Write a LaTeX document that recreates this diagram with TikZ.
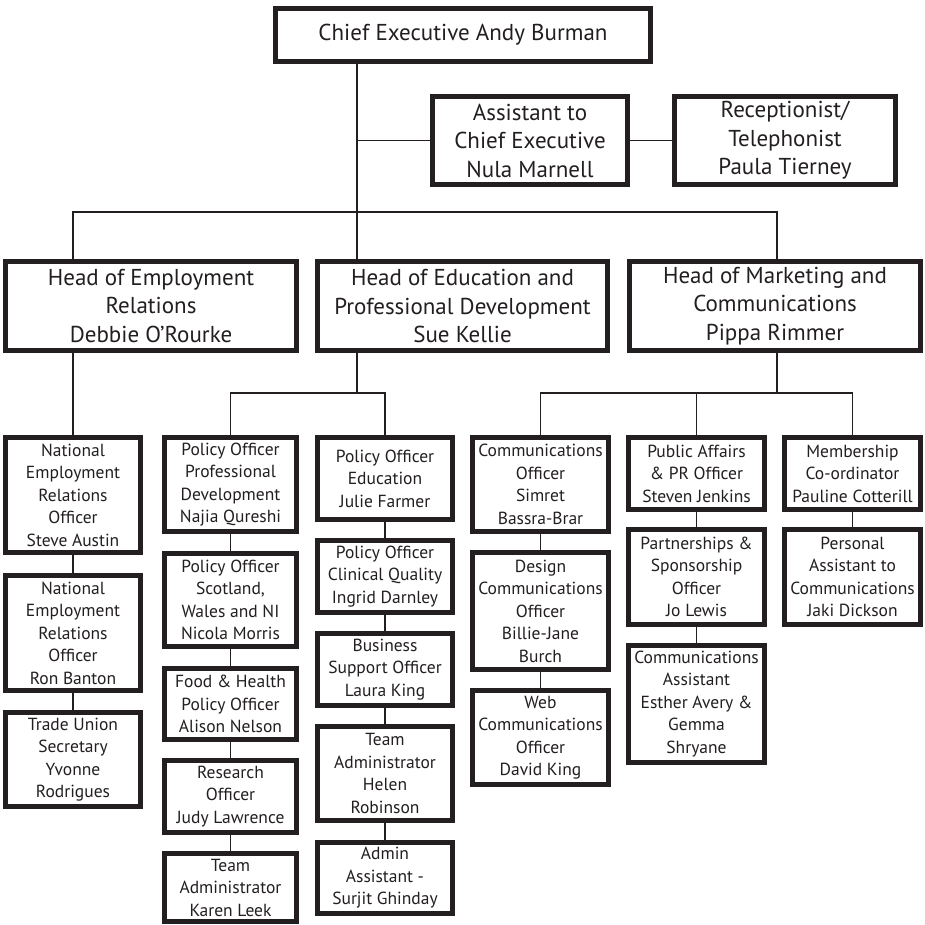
\documentclass[tikz,border=0pt]{standalone}
\usepackage{fontspec}
\setmainfont{PT Sans}
\definecolor{ink}{RGB}{35,31,32}
\newcommand\bigtxt{\fontsize{23}{28.5}\selectfont}
\newcommand\smalltxt{\fontsize{17.5}{22.5}\selectfont}
\tikzset{
  bx/.style={draw=ink, line width=5pt, fill=white, inner sep=0pt, align=center, text=ink},
  bigbox/.style={bx, font=\bigtxt},
  smallbox/.style={bx, font=\smalltxt},
  conn/.style={draw=ink, line width=1.4pt},
}
% name, x1, y1, x2, y2, style, text
\newcommand\obox[7]{\node[#6, minimum width={(#4-#2-5)*1pt}, minimum height={(#5-#3-5)*1pt}] (#1) at ({(#2+#4)/2},{(#3+#5)/2}) {#7};}
\begin{document}
\begin{tikzpicture}[x=1pt,y=-1pt]
\path[use as bounding box, fill=white] (0,0) rectangle (924,925);
% junction points
\coordinate (j0) at (357,212);
\coordinate (jL) at (73,212);
\coordinate (jR) at (777,212);
\coordinate (je) at (357,393);
\coordinate (jm) at (777,393);
% top
\obox{chief}{273}{6}{653}{64}{bigbox}{Chief Executive Andy Burman}
\obox{asst}{430}{94}{630}{187}{bigbox}{Assistant to\\Chief Executive\\Nula Marnell}
\obox{recep}{672}{94}{898}{187}{bigbox}{Receptionist/\\Telephonist\\Paula Tierney}
% heads
\obox{emp}{3}{259}{299}{353}{bigbox}{Head of Employment\\Relations\\Debbie O’Rourke}
\obox{edu}{315}{259}{610}{353}{bigbox}{Head of Education and\\Professional Development\\Sue Kellie}
\obox{mkt}{627}{259}{923}{353}{bigbox}{Head of Marketing and\\Communications\\Pippa Rimmer}
% column 1
\obox{nat1}{3}{435}{143}{555}{smallbox}{National\\Employment\\Relations\\Officer\\Steve Austin}
\obox{nat2}{3}{573}{143}{693}{smallbox}{National\\Employment\\Relations\\Officer\\Ron Banton}
\obox{tu}{3}{710}{143}{809}{smallbox}{Trade Union\\Secretary\\Yvonne\\Rodrigues}
% column 2
\obox{pd}{162}{435}{299}{534}{smallbox}{Policy Officer\\Professional\\Development\\Najia Qureshi}
\obox{sc}{162}{551}{299}{649}{smallbox}{Policy Officer\\Scotland,\\Wales and NI\\Nicola Morris}
\obox{fh}{162}{666}{299}{742}{smallbox}{Food \& Health\\Policy Officer\\Alison Nelson}
\obox{rs}{162}{758}{299}{835}{smallbox}{Research\\Officer\\Judy Lawrence}
\obox{taa}{162}{851}{299}{924}{smallbox}{Team\\Administrator\\Karen Leek}
% column 3
\obox{pe}{315}{435}{455}{522}{smallbox}{Policy Officer\\Education\\Julie Farmer}
\obox{cq}{315}{538}{455}{615}{smallbox}{Policy Officer\\Clinical Quality\\Ingrid Darnley}
\obox{bs}{315}{631}{455}{708}{smallbox}{Business\\Support Officer\\Laura King}
\obox{tab}{315}{724}{455}{823}{smallbox}{Team\\Administrator\\Helen\\Robinson}
\obox{aa}{315}{840}{455}{916}{smallbox}{Admin\\Assistant -\\Surjit Ghinday}
% column 4
\obox{co}{470}{435}{611}{534}{smallbox}{Communications\\Officer\\Simret\\Bassra-Brar}
\obox{dc}{470}{550}{611}{672}{smallbox}{Design\\Communications\\Officer\\Billie-Jane\\Burch}
\obox{wc}{470}{688}{611}{787}{smallbox}{Web\\Communications\\Officer\\David King}
% column 5
\obox{pa}{626}{435}{767}{512}{smallbox}{Public Affairs\\\& PR Officer\\Steven Jenkins}
\obox{ps}{626}{527}{767}{627}{smallbox}{Partnerships \&\\Sponsorship\\Officer\\Jo Lewis}
\obox{ca}{626}{643}{767}{765}{smallbox}{Communications\\Assistant\\Esther Avery \&\\Gemma\\Shryane}
% column 6
\obox{mc}{782}{435}{923}{512}{smallbox}{Membership\\Co-ordinator\\Pauline Cotterill}
\obox{pac}{782}{527}{923}{627}{smallbox}{Personal\\Assistant to\\Communications\\Jaki Dickson}
% connectors
\draw[conn] (chief.south -| j0) -- (j0);
\draw[conn] (asst.west) -- (asst.west -| j0);
\draw[conn] (asst.east) -- (recep.west);
\draw[conn] (emp.north -| jL) -- (jL) -- (jR) -- (mkt.north -| jR);
\draw[conn] (j0) -- (edu.north -| j0);
\draw[conn] (emp.south -| nat1.north) -- (nat1.north);
\draw[conn] (nat1.south) -- (nat2.north);
\draw[conn] (nat2.south) -- (tu.north);
\draw[conn] (edu.south -| je) -- (je);
\draw[conn] (pd.north) |- (je) -| (pe.north);
\draw[conn] (pd.south) -- (sc.north);
\draw[conn] (sc.south) -- (fh.north);
\draw[conn] (fh.south) -- (rs.north);
\draw[conn] (rs.south) -- (taa.north);
\draw[conn] (pe.south) -- (cq.north);
\draw[conn] (cq.south) -- (bs.north);
\draw[conn] (bs.south) -- (tab.north);
\draw[conn] (tab.south) -- (aa.north);
\draw[conn] (mkt.south -| jm) -- (jm);
\draw[conn] (co.north) |- (jm) -| (mc.north);
\draw[conn] (pa.north) -- (pa.north |- jm);
\draw[conn] (co.south) -- (dc.north);
\draw[conn] (dc.south) -- (wc.north);
\draw[conn] (pa.south) -- (ps.north);
\draw[conn] (ps.south) -- (ca.north);
\draw[conn] (mc.south) -- (pac.north);
\end{tikzpicture}
\end{document}
